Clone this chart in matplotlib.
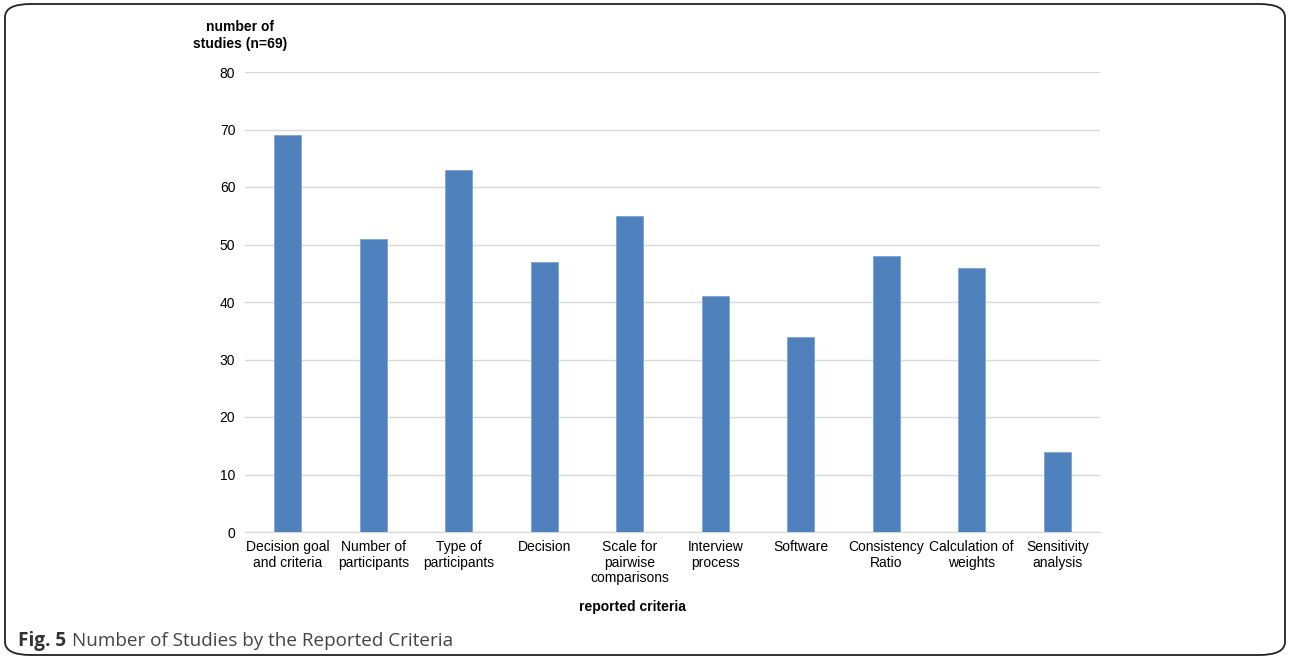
import matplotlib.pyplot as plt
from matplotlib.patches import FancyBboxPatch
import numpy as np

# reported criteria and how many studies reported each
criteria = ["Decision goal\nand criteria", "Number of\nparticipants", "Type of\nparticipants",
            "Decision", "Scale for\npairwise\ncomparisons", "Interview\nprocess", "Software",
            "Consistency\nRatio", "Calculation of\nweights", "Sensitivity\nanalysis"]
n_studies = [69, 51, 63, 47, 55, 41, 34, 48, 46, 14]
y_ticks = [0, 10, 20, 30, 40, 50, 60, 70, 80]

W, H = 1290, 661
fig = plt.figure(figsize=(W / 100, H / 100), dpi=100)

# rounded frame around the whole figure
frame = FancyBboxPatch((5 / W, 6 / H), 1 - 10 / W, 1 - 10 / H,
                       boxstyle="round,pad=0,rounding_size=0.02",
                       transform=fig.transFigure, fill=False,
                       edgecolor="#222222", linewidth=1.3)
fig.patches.append(frame)

ax = fig.add_axes([245 / W, 1 - 532 / H, (1100 - 245) / W, (532 - 72) / H])
x = np.arange(len(criteria))
ax.bar(x, n_studies, width=0.313, color="#4f81bd", edgecolor="#7ea3d3", linewidth=0.6, zorder=3)

ax.set_xlim(-0.5, len(criteria) - 0.5)
ax.set_ylim(0, 80)
ax.set_yticks(y_ticks)
ax.set_yticklabels([str(v) for v in y_ticks], fontsize=10, family="Liberation Sans")
ax.yaxis.grid(True, color="#d9d9d9", linewidth=1.0, zorder=0)
ax.set_xticks(x)
ax.set_xticklabels(criteria, fontsize=10, family="Liberation Sans", linespacing=1.12)
ax.tick_params(axis="both", length=0, colors="black")
ax.tick_params(axis="y", pad=7)
ax.tick_params(axis="x", pad=6)
for s in ["top", "right", "left"]:
    ax.spines[s].set_visible(False)
ax.spines["bottom"].set_color("#d9d9d9")
ax.spines["bottom"].set_linewidth(1.0)

fig.text(240 / W, 1 - 35.5 / H, "number of\nstudies (n=69)", ha="center", va="center",
         fontsize=10, fontweight="bold", family="Liberation Sans", linespacing=1.25)
fig.text(632 / W, 1 - 607 / H, "reported criteria", ha="center", va="center",
         fontsize=10, fontweight="bold", family="Liberation Sans")

# caption
fig.text(18 / W, 1 - 641 / H, "Fig. 5", ha="left", va="center",
         fontsize=13.6, fontweight="bold", family="Open Sans", color="#333333")
fig.text(72 / W, 1 - 641 / H, "Number of Studies by the Reported Criteria", ha="left", va="center",
         fontsize=13.6, family="Open Sans", color="#444444")

fig.savefig("out.png", dpi=100)
